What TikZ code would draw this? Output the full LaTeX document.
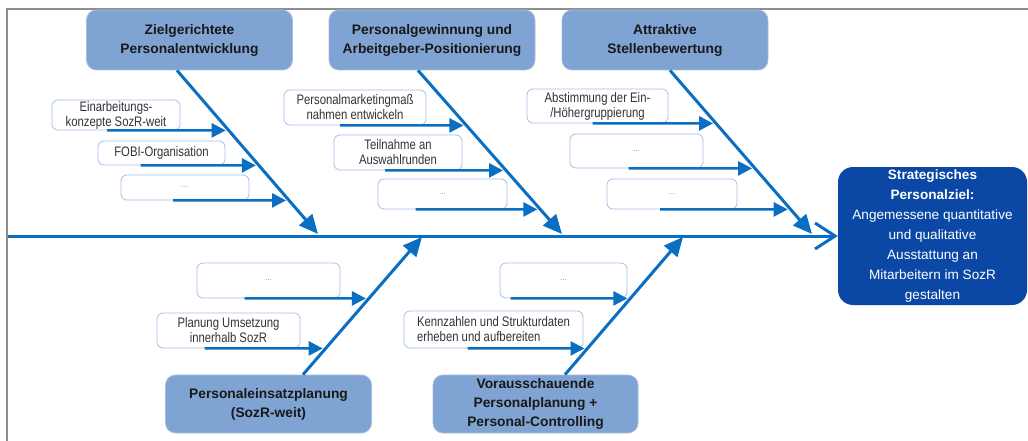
\documentclass[tikz,border=0pt]{standalone}
\usepackage{fontspec}
\setmainfont{Liberation Sans}
\newfontfamily\narrowfont[FakeStretch=0.82]{Liberation Sans}
\usetikzlibrary{arrows.meta}
\definecolor{fbblue}{HTML}{0A6FC2}
\definecolor{catfill}{HTML}{7FA3D2}
\definecolor{catline}{HTML}{A5BEE0}
\definecolor{goalfill}{HTML}{0B48A6}
\definecolor{subline}{HTML}{A3BFE6}
\definecolor{framegray}{HTML}{8E8E8E}
\begin{document}
\begin{tikzpicture}[x=1pt,y=-1pt,
    cat/.style={draw=catline, fill=catfill, line width=0.8pt, rounded corners=10pt,
        minimum width=206pt, minimum height=60pt, inner sep=0pt, align=center,
        text=black!90, font=\fontsize{13.8}{19}\selectfont\bfseries},
    sub/.style={draw=subline, fill=white, line width=0.8pt, rounded corners=6pt,
        inner sep=0pt, align=center, text=black!80, font=\narrowfont\fontsize{13.8}{15}\selectfont},
    dots/.style={sub, text=black!45, font=\fontsize{8}{10}\selectfont},
    bone/.style={draw=fbblue, line width=3pt, -{Triangle[length=19pt,width=17pt]}},
    twig/.style={draw=fbblue, line width=2.5pt, shorten >=3pt, -{Triangle[length=14pt,width=14pt]}},
    spine/.style={draw=fbblue, line width=3pt, -{Straight Barb[length=20pt,width=26pt]}}
]
    \useasboundingbox (0,0) rectangle (1028,441);
    \draw[framegray, line width=2pt] (7,441) -- (7,9) -- (1028,9);

    % head
    \node[fill=goalfill, rounded corners=15pt, minimum width=189pt, minimum height=138pt,
        inner sep=0pt, align=center, text=white, font=\fontsize{13.6}{20}\selectfont] (goal) at (932.5,236)
        {\textbf{Strategisches}\\\textbf{Personalziel:}\\Angemessene quantitative\\und qualitative\\Ausstattung an\\Mitarbeitern im SozR\\gestalten};

    % categories
    \node[cat] (c1) at (189.5,40) {Zielgerichtete\\Personalentwicklung};
    \node[cat] (c2) at (432,40) {Personalgewinnung und\\Arbeitgeber-Positionierung};
    \node[cat] (c3) at (665,40) {Attraktive\\Stellenbewertung};
    \node[cat, minimum height=58pt] (b1) at (268.5,404) {Personaleinsatzplanung\\(SozR-weit)};
    \node[cat, minimum width=205pt, minimum height=58pt] (b2) at (535.5,404) {Vorausschauende\\Personalplanung +\\Personal-Controlling};

    % spine and bones
    \coordinate (sp) at (8,236);
    \draw[spine] (sp) -- (goal.west);
    \coordinate (s1) at ([xshift=-12.5pt]c1.south);
    \coordinate (s2) at ([xshift=-14pt]c2.south);
    \coordinate (s3) at ([xshift=5pt]c3.south);
    \coordinate (v1) at ([xshift=34.5pt]b1.north);
    \coordinate (v2) at ([xshift=29.5pt]b2.north);
    \coordinate (t1) at (318,234);
    \coordinate (t2) at (562,234);
    \coordinate (t3) at (812,234);
    \coordinate (u1) at (422,237);
    \coordinate (u2) at (683,237);
    \draw[bone] (s1) -- (t1);
    \draw[bone] (s2) -- (t2);
    \draw[bone] (s3) -- (t3);
    \draw[bone] (v1) -- (u1);
    \draw[bone] (v2) -- (u2);

    % causes
    \node[sub, minimum width=128pt, minimum height=30pt] (e1) at (116,115) {Einarbeitungs-\\konzepte SozR-weit};
    \node[sub, minimum width=127pt, minimum height=24pt] (e2) at (161.5,153) {FOBI-Organisation};
    \node[dots, minimum width=128pt, minimum height=25pt] (e3) at (185,187.5) {...};
    \node[sub, minimum width=142pt, minimum height=35pt] (f1) at (355,107.5) {Personalmarketingmaß\\nahmen entwickeln};
    \node[sub, minimum width=128pt, minimum height=35pt] (f2) at (398,152.5) {Teilnahme an\\Auswahlrunden};
    \node[dots, minimum width=129pt, minimum height=30pt] (f3) at (442.5,194) {...};
    \node[sub, minimum width=141pt, minimum height=34pt] (g1) at (597.5,106) {Abstimmung der Ein-\\/Höhergruppierung};
    \node[dots, minimum width=133pt, minimum height=34pt] (g2) at (636.5,151) {...};
    \node[dots, minimum width=130pt, minimum height=30pt] (g3) at (672,194) {...};
    \node[dots, minimum width=143pt, minimum height=35pt] (h1) at (268.5,280.5) {...};
    \node[sub, minimum width=143pt, minimum height=35pt] (h2) at (228.5,330.5) {Planung Umsetzung\\innerhalb SozR};
    \node[dots, minimum width=127pt, minimum height=35pt] (k1) at (563.5,280.5) {...};
    \node[sub, align=left, minimum width=179pt, minimum height=37pt] (k2) at (493.5,329.5) {Kennzahlen und Strukturdaten\\erheben und aufbereiten};

    \draw[twig] ([xshift=-9pt]e1.south) -- (intersection of s1--t1 and e1.south--e1.south east);
    \draw[twig] ([xshift=-21pt]e2.south) -- (intersection of s1--t1 and e2.south--e2.south east);
    \draw[twig] ([xshift=-12pt]e3.south) -- (intersection of s1--t1 and e3.south--e3.south east);
    \draw[twig] ([xshift=-15pt]f1.south) -- (intersection of s2--t2 and f1.south--f1.south east);
    \draw[twig] ([xshift=-13pt]f2.south) -- (intersection of s2--t2 and f2.south--f2.south east);
    \draw[twig] ([xshift=-27pt]f3.south) -- (intersection of s2--t2 and f3.south--f3.south east);
    \draw[twig] ([xshift=-5pt]g1.south) -- (intersection of s3--t3 and g1.south--g1.south east);
    \draw[twig] ([xshift=-8pt]g2.south) -- (intersection of s3--t3 and g2.south--g2.south east);
    \draw[twig] ([xshift=-12pt]g3.south) -- (intersection of s3--t3 and g3.south--g3.south east);
    \draw[twig] ([xshift=-24pt]h1.south) -- (intersection of v1--u1 and h1.south--h1.south east);
    \draw[twig] ([xshift=-24pt]h2.south) -- (intersection of v1--u1 and h2.south--h2.south east);
    \draw[twig] ([xshift=-53pt]k1.south) -- (intersection of v2--u2 and k1.south--k1.south east);
    \draw[twig] ([xshift=-26pt]k2.south) -- (intersection of v2--u2 and k2.south--k2.south east);
\end{tikzpicture}
\end{document}
